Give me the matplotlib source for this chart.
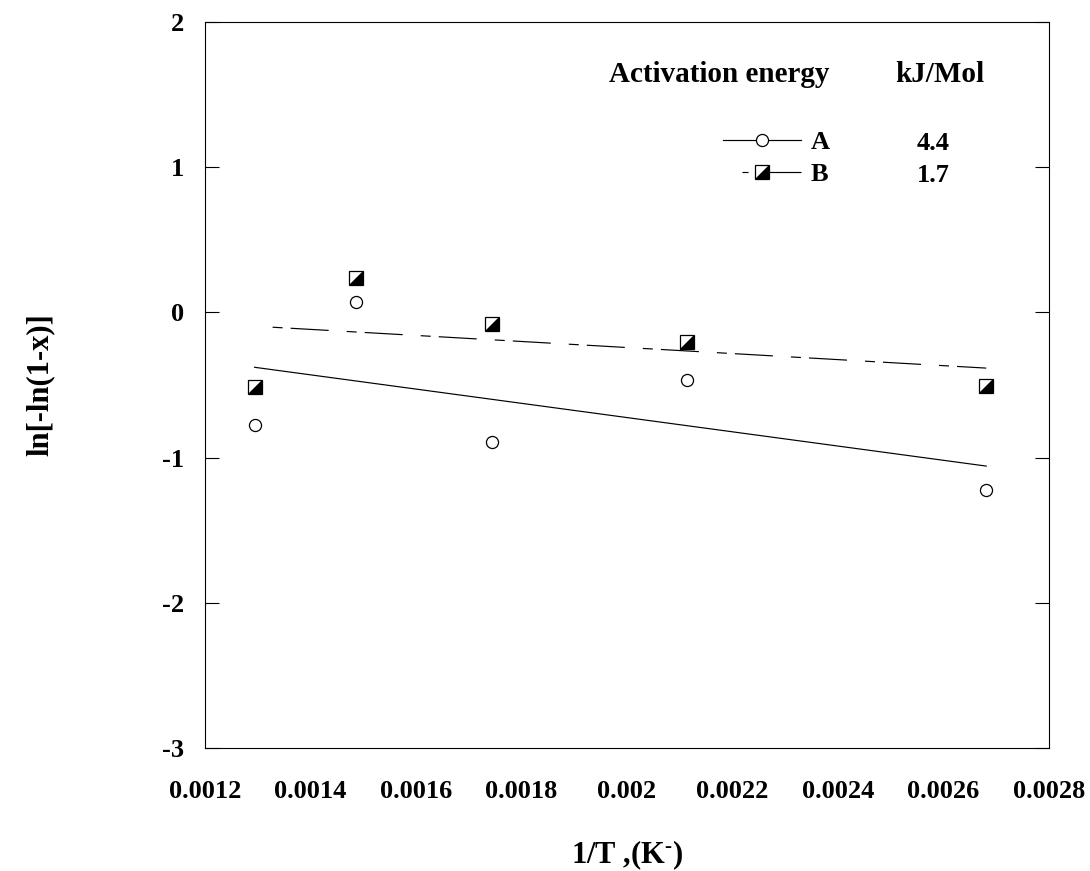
import numpy as np
import matplotlib
matplotlib.use("Agg")
import matplotlib.pyplot as plt
from matplotlib.lines import Line2D
from matplotlib.legend_handler import HandlerTuple

plt.rcParams['font.family'] = ['Liberation Serif', 'DejaVu Serif']
plt.rcParams['font.weight'] = 'bold'
plt.rcParams['mathtext.fontset'] = 'custom'
plt.rcParams['mathtext.rm'] = 'Liberation Serif:bold'
plt.rcParams['mathtext.it'] = 'Liberation Serif:bold'
plt.rcParams['mathtext.bf'] = 'Liberation Serif:bold'
plt.rcParams['lines.scale_dashes'] = False

# Data
inv_T = [0.001294, 0.001486, 0.001745, 0.002114, 0.002681]
y_A = [-0.775, 0.072, -0.896, -0.466, -1.223]
y_B = [-0.514, 0.237, -0.080, -0.204, -0.507]
series_labels = ["A", "B"]
energies = ["4.4", "1.7"]
x_ticks = [0.0012, 0.0014, 0.0016, 0.0018, 0.002, 0.0022, 0.0024, 0.0026, 0.0028]
x_ticklabels = ["0.0012", "0.0014", "0.0016", "0.0018", "0.002", "0.0022", "0.0024", "0.0026", "0.0028"]
y_ticks = [2, 1, 0, -1, -2, -3]

W, H = 1090, 871
fig = plt.figure(figsize=(W / 100, H / 100), dpi=100)
ax = fig.add_axes([205 / W, 1 - 748 / H, (1049 - 205) / W, (748 - 22) / H])

x = np.array(inv_T)
dash_pat = (40.4, (7.2, 5.8, 27.4, 13.0))

# regression lines
pA = np.polyfit(x, y_A, 1)
pB = np.polyfit(x, y_B, 1)
xf = np.array([x[0], x[-1]])
ax.plot(xf, np.polyval(pA, xf), color='black', lw=0.85, zorder=2)
ax.plot(xf, np.polyval(pB, xf), color='black', lw=0.85, linestyle=dash_pat, zorder=2)

# markers
ax.plot(x, y_A, linestyle='none', marker='o', markersize=8.7, markerfacecolor='white',
        markeredgecolor='black', markeredgewidth=0.9, zorder=3)
tri = [(-1, -1), (1, -1), (1, 1)]
ax.plot(x, y_B, linestyle='none', marker='s', markersize=10, markerfacecolor='white',
        markeredgecolor='black', markeredgewidth=0.9, zorder=3)
ax.plot(x, y_B, linestyle='none', marker=tri, markersize=10, markerfacecolor='black',
        markeredgecolor='black', markeredgewidth=0.0, zorder=4)

ax.set_xlim(0.0012, 0.0028)
ax.set_ylim(-3, 2)
ax.set_xticks(x_ticks)
ax.set_xticklabels(x_ticklabels)
ax.set_yticks(y_ticks)
ax.set_yticklabels([str(v) for v in y_ticks])
ax.tick_params(axis='both', direction='in', length=10, width=0.8, labelsize=19)
ax.tick_params(axis='y', left=True, right=True, pad=15)
ax.tick_params(axis='x', bottom=False, top=False, pad=23)
for s in ax.spines.values():
    s.set_linewidth(0.8)

ax.set_xlabel(r"1/T ,(K$^{\text{-}}$)", fontsize=22, fontweight='bold', va='center')
ax.xaxis.set_label_coords(0.5, (748 - 855) / 726)
fig.text(40 / W, 1 - 385 / H, "ln[-ln(1-x)]", rotation=90, fontsize=22,
         fontweight='bold', ha='center', va='center')

# legend
hA = Line2D([], [], color='black', lw=0.85, marker='o', markersize=8.7,
            markerfacecolor='white', markeredgecolor='black', markeredgewidth=0.9)
hB1 = Line2D([], [], color='black', lw=0.85, linestyle=(70.1, (4.3, 5.8, 60, 13.7)), marker='s',
             markersize=10, markerfacecolor='white', markeredgecolor='black', markeredgewidth=0.9)
hB2 = Line2D([], [], linestyle='none', marker=tri, markersize=10, markerfacecolor='black',
             markeredgewidth=0)
leg = ax.legend([hA, (hB1, hB2)], series_labels, handler_map={tuple: HandlerTuple(ndivide=1)},
                loc='upper left', bbox_to_anchor=(723 / W, 1 - 131 / H), bbox_transform=fig.transFigure,
                frameon=False, fontsize=19, handlelength=2.95, handletextpad=0.37,
                borderpad=0, borderaxespad=0, labelspacing=0.3)
for i, e in enumerate(energies):
    fig.text(933 / W, 1 - (144 + 31 * i) / H, e, fontsize=19, fontweight='bold',
             ha='center', va='center')

fig.text(719 / W, 1 - 75 / H, "Activation energy", fontsize=21, fontweight='bold',
         ha='center', va='center')
fig.text(940 / W, 1 - 75 / H, "kJ/Mol", fontsize=21, fontweight='bold',
         ha='center', va='center')

fig.savefig("out.png", dpi=100)
